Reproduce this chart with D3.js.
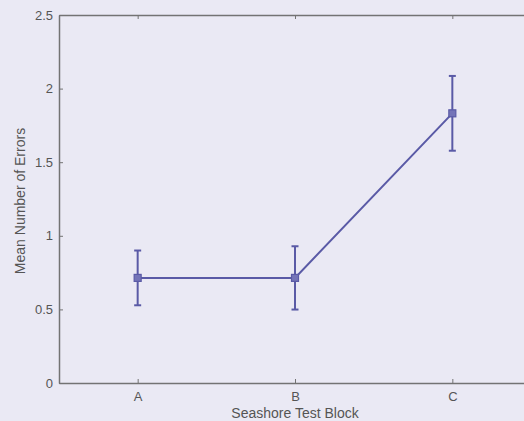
<!DOCTYPE html>
<html>
<head>
<meta charset="utf-8">
<script src="https://cdn.jsdelivr.net/npm/d3@7"></script>
<style>
  html, body { margin: 0; padding: 0; background: #eae9f4; }
  svg { display: block; }
  text { font-family: "Liberation Sans", Arial, sans-serif; fill: #555; }
</style>
</head>
<body>
<div id="chart"></div>
<script>
const width = 524;
const height = 421;

// mean errors per test block with symmetric error bars
const blocks = ["A", "B", "C"];
const means = [0.714, 0.714, 1.832];
const errs = [0.186, 0.215, 0.254];
const yTicks = [0, 0.5, 1, 1.5, 2, 2.5];

const margin = { left: 59, top: 15, bottom: 38 };

const svg = d3
  .select("#chart")
  .append("svg")
  .attr("width", width)
  .attr("height", height);

// categories sit at 1..3 with half a step of padding either side
const x = d3
  .scaleLinear()
  .domain([0.5, 3.5])
  .range([margin.left, margin.left + 472]);

const y = d3
  .scaleLinear()
  .domain([0, 2.5])
  .range([height - margin.bottom, margin.top]);

const axisColor = "#737373";

const xAxis = d3
  .axisBottom(x)
  .tickValues([1, 2, 3])
  .tickFormat((d) => blocks[d - 1])
  .tickSizeInner(-4)
  .tickSizeOuter(0)
  .tickPadding(9);

const gx = svg
  .append("g")
  .attr("transform", `translate(0,${y(0)})`)
  .call(xAxis);

const yAxis = d3
  .axisLeft(y)
  .tickValues(yTicks)
  .tickFormat(d3.format("~g"))
  .tickSizeInner(-4)
  .tickSizeOuter(0)
  .tickPadding(6);

const gy = svg
  .append("g")
  .attr("transform", `translate(${x(0.5)},0)`)
  .call(yAxis);

// top frame line with its own ticks
const gTop = svg
  .append("g")
  .attr("transform", `translate(0,${y(2.5)})`)
  .call(
    d3.axisTop(x).tickValues([1, 2, 3]).tickFormat("").tickSizeInner(-4).tickSizeOuter(0)
  );

[gx, gy, gTop].forEach((g) => {
  g.select(".domain").attr("stroke", axisColor).attr("stroke-width", 1.5);
  g.selectAll(".tick line").attr("stroke", axisColor).attr("stroke-width", 1);
  g.selectAll("text")
    .attr("font-size", 13)
    .attr("fill", "#555")
    .attr("font-family", "Liberation Sans, Arial, sans-serif");
});

const data = blocks.map((b, i) => ({ i: i + 1, mean: means[i], err: errs[i] }));

const lineColor = "#5a5aa6";

svg
  .append("path")
  .datum(data)
  .attr("fill", "none")
  .attr("stroke", lineColor)
  .attr("stroke-width", 2)
  .attr("d", d3.line().x((d) => x(d.i)).y((d) => y(d.mean)));

const bars = svg.append("g").selectAll("g").data(data).enter().append("g");

bars
  .append("line")
  .attr("x1", (d) => x(d.i))
  .attr("x2", (d) => x(d.i))
  .attr("y1", (d) => y(d.mean - d.err))
  .attr("y2", (d) => y(d.mean + d.err))
  .attr("stroke", lineColor)
  .attr("stroke-width", 2);

[-1, 1].forEach((s) => {
  bars
    .append("line")
    .attr("x1", (d) => x(d.i) - 3.5)
    .attr("x2", (d) => x(d.i) + 3.5)
    .attr("y1", (d) => y(d.mean + s * d.err))
    .attr("y2", (d) => y(d.mean + s * d.err))
    .attr("stroke", lineColor)
    .attr("stroke-width", 2);
});

bars
  .append("rect")
  .attr("x", (d) => x(d.i) - 3.5)
  .attr("y", (d) => y(d.mean) - 3.5)
  .attr("width", 7)
  .attr("height", 7)
  .attr("fill", "#7474b8")
  .attr("stroke", lineColor)
  .attr("stroke-width", 1.2);

svg
  .append("text")
  .attr("x", x(2))
  .attr("y", 418)
  .attr("text-anchor", "middle")
  .attr("font-size", 14)
  .text("Seashore Test Block");

svg
  .append("text")
  .attr("transform", `translate(25,${y(1.25) + 2}) rotate(-90)`)
  .attr("text-anchor", "middle")
  .attr("font-size", 14)
  .text("Mean Number of Errors");
</script>
</body>
</html>
